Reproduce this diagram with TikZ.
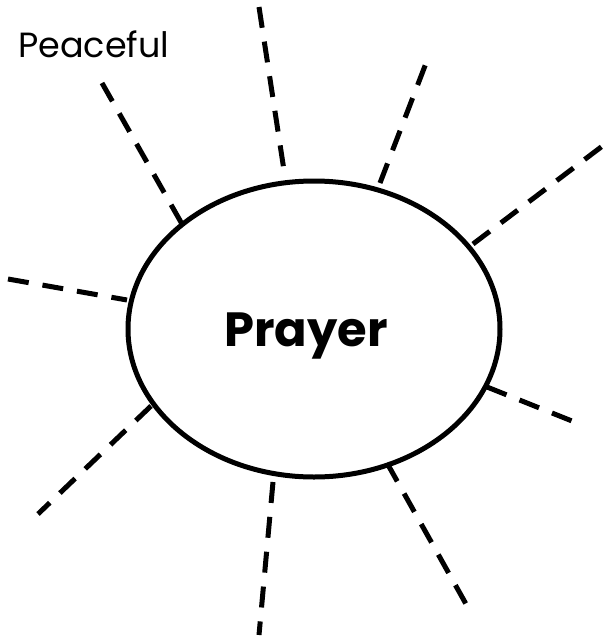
\documentclass[tikz,border=0pt]{standalone}
\usepackage{fontspec}
\setmainfont{Poppins}
\usetikzlibrary{shapes.geometric}
\begin{document}
\begin{tikzpicture}[x=1pt,y=-1pt,
  spoke/.style={line width=5pt,dash pattern=on 21pt off 14pt},
  hub/.style={ellipse,draw,line width=5pt,minimum width=372pt,minimum height=296pt,inner sep=0pt},
  lbl/.style={inner sep=0pt,anchor=base west}]
\useasboundingbox (0,0) rectangle (607,638);
\node[hub] (e) at (314,329) {};
\node[inner sep=0pt,anchor=base] (t) at (306,346) {\fontsize{48}{54}\selectfont\bfseries Prayer};
\node[lbl] (p) at (18,57) {\fontsize{35}{40}\selectfont Peaceful};
% spoke end points
\coordinate (a1) at (102,83);  \coordinate (b1) at (182,224);
\coordinate (a2) at (259,7);   \coordinate (b2) at (285,177);
\coordinate (a3) at (380,183); \coordinate (b3) at (428,58);
\coordinate (a4) at (473,244); \coordinate (b4) at (617,135);
\coordinate (a5) at (487,387); \coordinate (b5) at (577,423);
\coordinate (a6) at (387,463); \coordinate (b6) at (466,604);
\coordinate (a7) at (273,482); \coordinate (b7) at (259,635);
\coordinate (a8) at (151,406); \coordinate (b8) at (38,514);
\coordinate (a9) at (8,279);   \coordinate (b9) at (127,300);
\foreach \i in {1,...,9}{\draw[spoke] (a\i) -- (b\i);}
\end{tikzpicture}
\end{document}
